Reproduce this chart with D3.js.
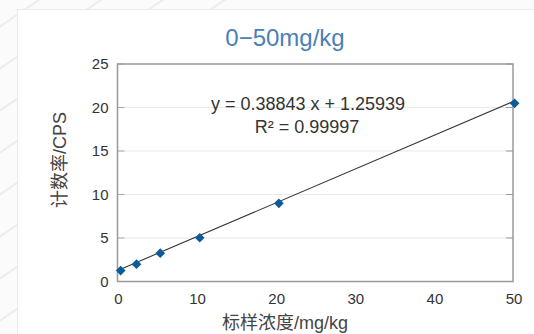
<!DOCTYPE html>
<html>
<head>
<meta charset="utf-8">
<script src="https://cdn.jsdelivr.net/npm/d3@7"></script>
<style>
  html, body { margin: 0; padding: 0; background: #fbfbfc; }
  svg { display: block; font-family: "Liberation Sans", Arial, "Noto Sans CJK SC", sans-serif; }
</style>
</head>
<body>
<div id="chart"></div>
<script>
// Standard concentrations (mg/kg) and measured count rates (CPS)
const concentrations = [0.4, 2.4, 5.4, 10.4, 20.4, 50.2];
const countRates = [1.26, 1.99, 3.25, 5.03, 8.99, 20.48];

// Fit shown on the chart
const slope = 0.38843;
const intercept = 1.25939;
const rSquared = "0.99997";

const xTicks = [0, 10, 20, 30, 40, 50];
const yTicks = [0, 5, 10, 15, 20, 25];

const title = "0\u221250mg/kg";
const xTitle = "标样浓度/mg/kg";
const yTitle = "计数率/CPS";

const width = 534;
const height = 334;
const margin = { top: 64, right: 21, bottom: 52.5, left: 117.5 };

const svg = d3.select("#chart")
  .append("svg")
  .attr("width", width)
  .attr("height", height);

// Faint diagonal stripes in the page background
const stripes = svg.append("g");
for (let i = -6; i < 14; i++) {
  stripes.append("line")
    .attr("x1", -20).attr("y1", i * 42 + 40)
    .attr("x2", 260).attr("y2", i * 42 - 150)
    .attr("stroke", "#ececf1")
    .attr("stroke-width", 2);
}

// White card
svg.append("rect")
  .attr("x", 17.5).attr("y", 9.5)
  .attr("width", width).attr("height", height)
  .attr("fill", "#fff")
  .attr("stroke", "#e9e9ee");

const x = d3.scaleLinear().domain([0, 50]).range([margin.left, width - margin.right]);
const y = d3.scaleLinear().domain([0, 25]).range([height - margin.bottom, margin.top]);

// Gridlines
svg.append("g")
  .selectAll("line")
  .data(yTicks.filter(d => d > 0 && d < 25))
  .enter().append("line")
  .attr("x1", x(0)).attr("x2", x(50))
  .attr("y1", d => y(d)).attr("y2", d => y(d))
  .attr("stroke", "#e9e9e9");

// Inner tick marks on both sides
const tickLen = 7;
svg.append("g")
  .selectAll("line")
  .data(yTicks)
  .enter().append("line")
  .attr("x1", x(0)).attr("x2", x(0) + tickLen)
  .attr("y1", d => y(d)).attr("y2", d => y(d))
  .attr("stroke", "#aaa");
svg.append("g")
  .selectAll("line")
  .data(yTicks)
  .enter().append("line")
  .attr("x1", x(50) - tickLen).attr("x2", x(50))
  .attr("y1", d => y(d)).attr("y2", d => y(d))
  .attr("stroke", "#999");

// Plot frame
svg.append("rect")
  .attr("x", x(0)).attr("y", y(25))
  .attr("width", x(50) - x(0)).attr("height", y(0) - y(25))
  .attr("fill", "none")
  .attr("stroke", "#999")
  .attr("stroke-width", 1.5);

// Y tick labels
svg.append("g")
  .selectAll("text")
  .data(yTicks)
  .enter().append("text")
  .attr("x", 108.5)
  .attr("y", d => y(d))
  .attr("dy", "0.36em")
  .attr("text-anchor", "end")
  .attr("font-size", 15)
  .attr("fill", "#333")
  .text(d => d);

// X tick labels
svg.append("g")
  .selectAll("text")
  .data(xTicks)
  .enter().append("text")
  .attr("x", d => x(d) + 1)
  .attr("y", 304)
  .attr("text-anchor", "middle")
  .attr("font-size", 15)
  .attr("fill", "#333")
  .text(d => d);

// Trendline
const xExtent = d3.extent(concentrations);
svg.append("line")
  .attr("x1", x(xExtent[0])).attr("y1", y(slope * xExtent[0] + intercept))
  .attr("x2", x(xExtent[1])).attr("y2", y(slope * xExtent[1] + intercept))
  .attr("stroke", "#333")
  .attr("stroke-width", 1.1);

// Diamond markers
const points = concentrations.map((c, i) => ({ c, v: countRates[i] }));
svg.append("g")
  .selectAll("path")
  .data(points)
  .enter().append("path")
  .attr("d", d3.symbol().type(d3.symbolDiamond2).size(60))
  .attr("transform", d => `translate(${x(d.c)},${y(d.v)})`)
  .attr("fill", "#0b5b98");

// Equation
svg.append("text")
  .attr("x", 308).attr("y", 109.5)
  .attr("text-anchor", "middle")
  .attr("font-size", 18)
  .attr("fill", "#333")
  .text(`y = ${slope} x + ${intercept}`);
svg.append("text")
  .attr("x", 307).attr("y", 133)
  .attr("text-anchor", "middle")
  .attr("font-size", 18)
  .attr("fill", "#333")
  .text(`R² = ${rSquared}`);

// Title
svg.append("text")
  .attr("x", 285).attr("y", 46)
  .attr("text-anchor", "middle")
  .attr("font-size", 24)
  .attr("fill", "#4a80b5")
  .text(title);

// Axis titles
svg.append("text")
  .attr("x", 285).attr("y", 329)
  .attr("text-anchor", "middle")
  .attr("font-size", 18)
  .attr("fill", "#444")
  .text(xTitle);
svg.append("text")
  .attr("transform", "translate(66,160) rotate(-90)")
  .attr("text-anchor", "middle")
  .attr("font-size", 18)
  .attr("fill", "#444")
  .text(yTitle);
</script>
</body>
</html>
